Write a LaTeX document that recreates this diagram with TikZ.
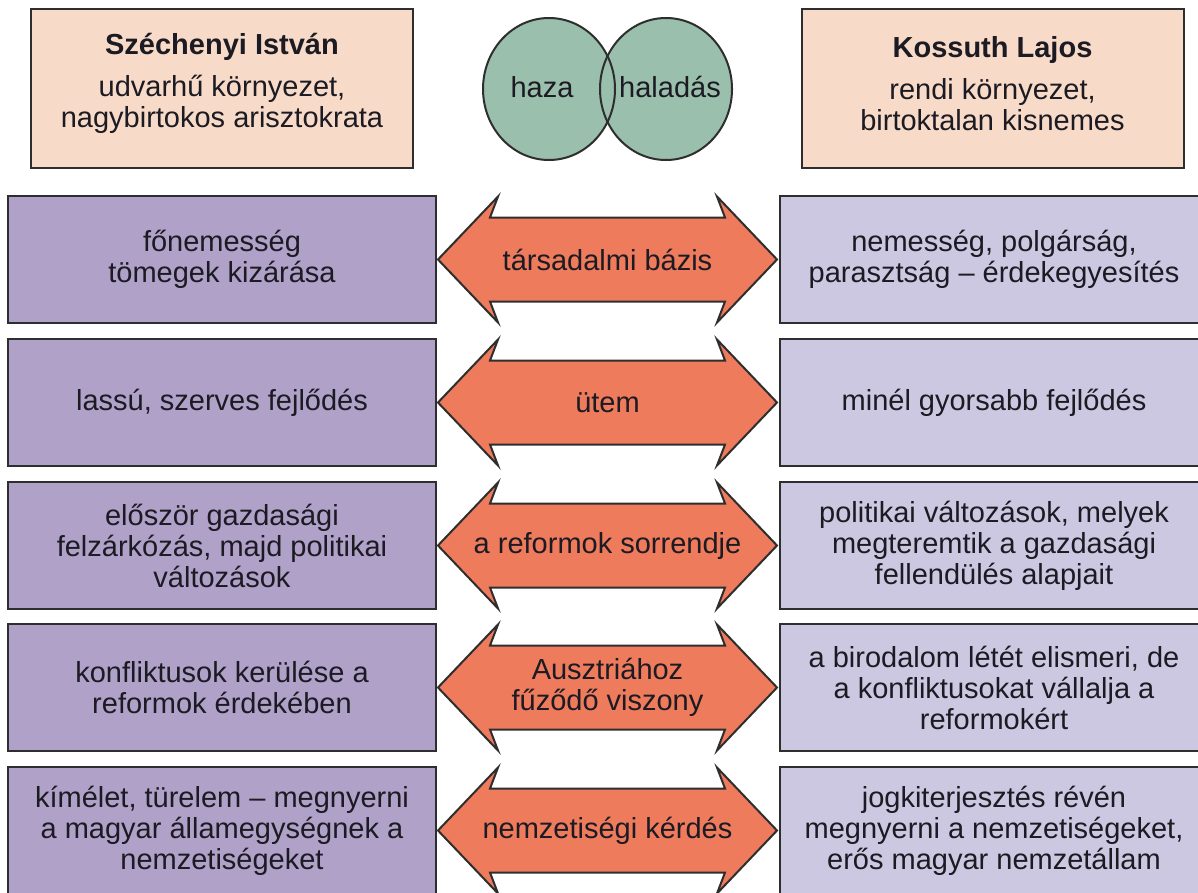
\documentclass[tikz,border=0pt]{standalone}
\usepackage{fontspec}
\setmainfont{Liberation Sans}
\usetikzlibrary{shapes.geometric}
\definecolor{beige}{HTML}{F7DBC8}
\definecolor{lpurp}{HTML}{B0A1C8}
\definecolor{rlav}{HTML}{CCC8E1}
\definecolor{vgreen}{HTML}{9BBFAD}
\definecolor{arrowc}{HTML}{EE7B5C}
\definecolor{bord}{HTML}{2E2E2E}
\definecolor{txt}{HTML}{1C1A22}
\begin{document}
\begin{tikzpicture}[x=1pt,y=-1pt,
  every node/.style={font=\fontsize{29}{31}\selectfont, text=txt, align=center, inner sep=0pt},
  hbox/.style={draw=bord, line width=2pt, fill=beige, minimum width=382, minimum height=159},
  lbox/.style={draw=bord, line width=2pt, fill=lpurp, minimum width=428, minimum height=127},
  rbox/.style={lbox, fill=rlav},
  vennfill/.style={fill=vgreen, ellipse, minimum width=132, minimum height=142},
  vennline/.style={draw=bord, line width=2pt, ellipse, minimum width=132, minimum height=142},
  dblarrow/.style={draw=bord, line width=2pt, fill=arrowc, line join=miter},
  pics/dbl/.style={code={
    \draw[dblarrow] (-169.5,0) -- (-109.5,-63) -- (-117.5,-42) -- (117.5,-42) -- (109.5,-63)
      -- (169.5,0) -- (109.5,63) -- (117.5,42) -- (-117.5,42) -- (-109.5,63) -- cycle;}}]
\useasboundingbox (0,0) rectangle (1198,892);
\fill[white] (0,0) rectangle (1198,892);

% header boxes
\node[hbox] (sz) at (222,88.5) {};
\node[yshift=5pt] (szt) at (sz.center) {\textbf{Széchenyi István}\\[11pt]udvarhű környezet,\\nagybirtokos arisztokrata};
\node[hbox] (ko) at (992.5,88.5) {};
\node[yshift=5pt] (kot) at (ko.center) {\textbf{Kossuth Lajos}\\[11pt]rendi környezet,\\birtoktalan kisnemes};

% venn
\node[vennfill] (haza) at (549,89) {};
\node[vennfill] (halad) at (666,89) {};
\node[vennline] (hazal) at (haza.center) {};
\node[vennline] (haladl) at (halad.center) {};
\node (hazat) at (542,87) {haza};
\node (haladt) at (670,87) {haladás};

% row 1
\node[lbox] (L1) at (222,259.5) {főnemesség\\tömegek kizárása};
\node[rbox] (R1) at (994,259.5) {nemesség, polgárság,\\parasztság – érdekegyesítés};
\pic at (607.5,259.5) {dbl};
\node (A1) at (607.5,259.5) {társadalmi bázis};

% row 2
\node[lbox] (L2) at (222,402.5) {lassú, szerves fejlődés};
\node[rbox] (R2) at (994,402.5) {minél gyorsabb fejlődés};
\pic at (607.5,402.5) {dbl};
\node (A2) at (607.5,402.5) {ütem};

% row 3
\node[lbox] (L3) at (222,545.5) {először gazdasági\\felzárkózás, majd politikai\\változások};
\node[rbox] (R3) at (994,545.5) {politikai változások, melyek\\megteremtik a gazdasági\\fellendülés alapjait};
\pic at (607.5,545.5) {dbl};
\node (A3) at (607.5,545.5) {a reformok sorrendje};

% row 4
\node[lbox] (L4) at (222,687.5) {konfliktusok kerülése a\\reformok érdekében};
\node[rbox] (R4) at (994,687.5) {a birodalom létét elismeri, de\\a konfliktusokat vállalja a\\reformokért};
\pic at (607.5,687.5) {dbl};
\node (A4) at (607.5,687.5) {Ausztriához\\fűződő viszony};

% row 5
\node[lbox] (L5) at (222,830.5) {kímélet, türelem – megnyerni\\a magyar államegységnek a\\nemzetiségeket};
\node[rbox] (R5) at (994,830.5) {jogkiterjesztés révén\\megnyerni a nemzetiségeket,\\erős magyar nemzetállam};
\pic at (607.5,830.5) {dbl};
\node (A5) at (607.5,830.5) {nemzetiségi kérdés};
\end{tikzpicture}
\end{document}
